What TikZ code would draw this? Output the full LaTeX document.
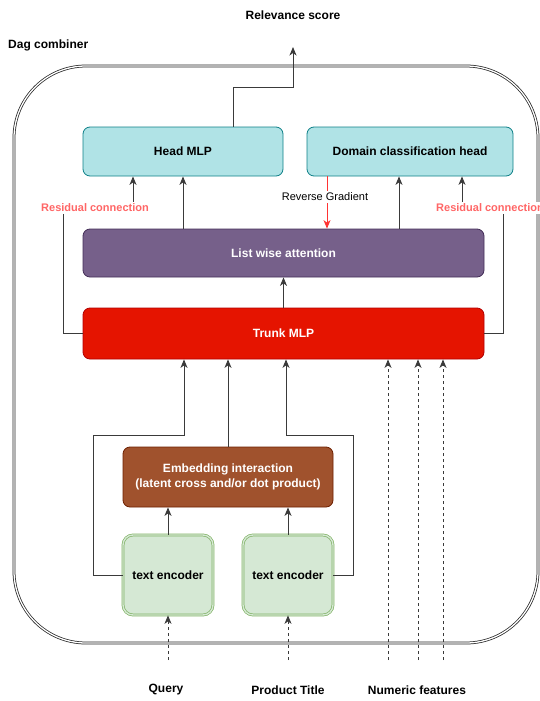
\documentclass[tikz,border=0pt]{standalone}
\usepackage{fontspec}
\setmainfont{Liberation Sans}
\usetikzlibrary{arrows.meta,calc}
\definecolor{headfill}{HTML}{B0E3E6}
\definecolor{headdraw}{HTML}{0E8088}
\definecolor{attfill}{HTML}{76608A}
\definecolor{attdraw}{HTML}{432D57}
\definecolor{trfill}{HTML}{E51400}
\definecolor{trdraw}{HTML}{B20000}
\definecolor{embfill}{HTML}{A0522D}
\definecolor{embdraw}{HTML}{6D1F00}
\definecolor{encfill}{HTML}{D5E8D4}
\definecolor{encdraw}{HTML}{82B366}
\definecolor{resred}{HTML}{FF6666}
\definecolor{gradred}{HTML}{FF3333}
\definecolor{edgecol}{HTML}{3A3A3A}
\begin{document}
\begin{tikzpicture}[x=1pt,y=-1pt,
  box/.style={rounded corners=7pt, line width=0.8pt, align=center, inner sep=0pt,
    font=\fontsize{12}{14.4}\selectfont\bfseries},
  headbox/.style={box, fill=headfill, draw=headdraw, minimum height=49pt},
  attbox/.style={box, fill=attfill, draw=attdraw, text=white, minimum width=401pt, minimum height=48pt},
  trunkbox/.style={box, fill=trfill, draw=trdraw, text=white, minimum width=401pt, minimum height=51pt},
  embbox/.style={box, fill=embfill, draw=embdraw, text=white, minimum width=210pt, minimum height=60pt},
  encbox/.style={box, rounded corners=10pt, fill=encfill, draw=encdraw, double=encfill, double distance=1.4pt, line width=0.7pt, minimum width=90pt, minimum height=80pt},
  lbl/.style={font=\fontsize{12}{14.4}\selectfont\bfseries, inner sep=0pt},
  reslbl/.style={font=\fontsize{11}{13}\selectfont\bfseries, text=resred, fill=white, inner sep=2pt},
  conn/.style={draw=edgecol, line width=0.9pt},
  arr/.style={conn, -{Stealth[length=8.5pt,width=7pt,inset=2.5pt]}},
  darr/.style={arr, dash pattern=on 3pt off 3pt},
  redarr/.style={draw=gradred, line width=0.9pt, -{Stealth[length=8.5pt,width=7pt,inset=2.5pt]}}
]
\useasboundingbox (0,0) rectangle (540,701);

% outer container
\draw[draw=black!85, double=white, double distance=1.3pt, line width=0.75pt, rounded corners=72pt]
  (14,66) rectangle (538,643);

% titles
\node[lbl] (rel) at (293,15) {Relevance score};
\node[lbl, anchor=west] (dag) at (8,45) {Dag combiner};

% boxes
\node[headbox, minimum width=200pt] (head) at (183,151.5) {Head MLP};
\node[headbox, minimum width=206pt] (domain) at (410,151.5) {Domain classification head};
\node[attbox] (att) at (283.5,253) {List wise attention};
\node[trunkbox] (trunk) at (283.5,333.5) {Trunk MLP};
\node[embbox] (emb) at (228,477) {Embedding interaction\\(latent cross and/or dot product)};
\node[encbox] (enc1) at (168,575) {text encoder};
\node[encbox] (enc2) at (288,575) {text encoder};

% bottom labels
\node[lbl] (query) at (166,690) {Query};
\node[lbl] (title) at (288,690) {Product Title};
\node[lbl] (numeric) at (417,690) {Numeric features};

% helper coordinates
\coordinate (xout) at (233,0);
\coordinate (relTip) at (293,47);
\coordinate (xdom) at (399,0);
\coordinate (xgrad) at (327,0);
\coordinate (xresL) at (133,0);
\coordinate (xresR) at (462,0);
\coordinate (xinL) at (184,0);
\coordinate (xinR) at (286,0);
\coordinate (xn1) at (388,0);
\coordinate (xn2) at (418,0);
\coordinate (xn3) at (443,0);
\coordinate (q0) at (168,660);
\coordinate (t0) at (288,660);

% output
\draw[arr] (xout |- head.north) -- (233,87) -- (293,87) -- (relTip);

% attention -> heads
\draw[arr] (att.north -| head.south) -- (head.south);
\draw[arr] (xdom |- att.north) -- (xdom |- domain.south);

% residual connections
\draw[arr] (trunk.west) -- (63,333.5) -- (63,208) -- (133,208) -- (xresL |- head.south);
\draw[arr] (trunk.east) -- (503,333.5) -- (503,208) -- (462,208) -- (xresR |- domain.south);
\node[reslbl] (resL) at (95,208) {Residual connection};
\node[reslbl] (resR) at (490,208) {Residual connection};

% reverse gradient
\draw[redarr] (xgrad |- domain.south) -- (xgrad |- att.north);
\node[fill=white, inner sep=1.5pt, font=\fontsize{11}{13}\selectfont] (rg) at (325,197) {Reverse Gradient};

% trunk -> attention
\draw[arr] (trunk.north) -- (att.south);

% into trunk
\draw[arr] (enc1.west) -- (93,575) -- (93,435) -- (184,435) -- (xinL |- trunk.south);
\draw[arr] (enc2.east) -- (353,575) -- (353,435) -- (286,435) -- (xinR |- trunk.south);
\draw[arr] (emb.north) -- (emb.north |- trunk.south);

% encoders -> embedding
\draw[arr] (enc1.north) -- (enc1.north |- emb.south);
\draw[arr] (enc2.north) -- (enc2.north |- emb.south);

% inputs
\draw[darr] (q0) -- (enc1.south);
\draw[darr] (t0) -- (enc2.south);
\draw[darr] (388,660) -- (xn1 |- trunk.south);
\draw[darr] (418,660) -- (xn2 |- trunk.south);
\draw[darr] (443,660) -- (xn3 |- trunk.south);
\end{tikzpicture}
\end{document}
